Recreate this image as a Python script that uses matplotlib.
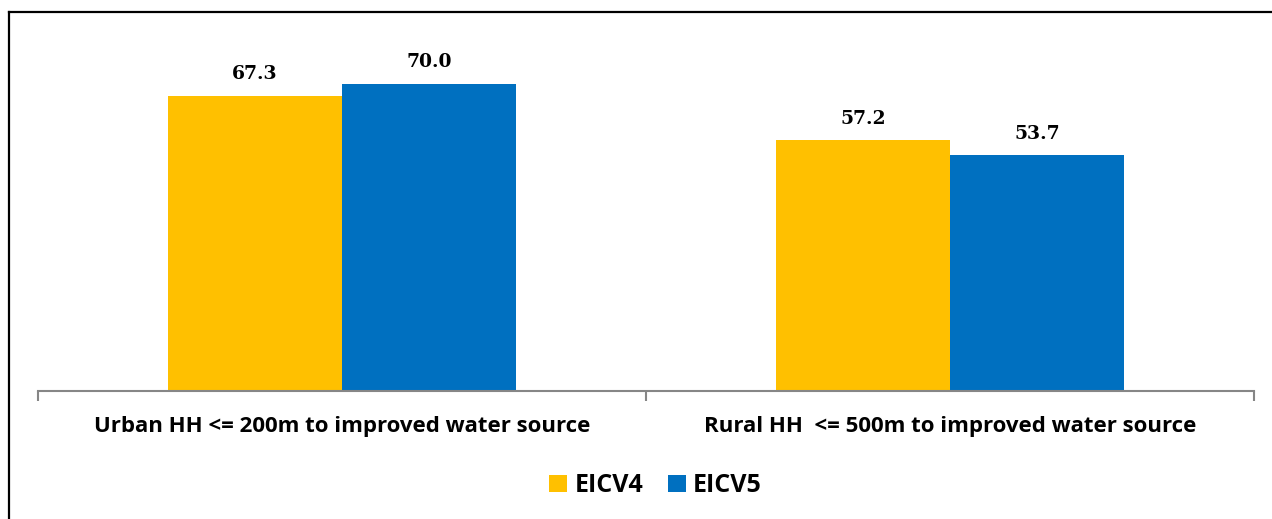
import numpy as np
import matplotlib.pyplot as plt
from matplotlib.lines import Line2D

categories = ["Urban HH <= 200m to improved water source",
              "Rural HH  <= 500m to improved water source"]
series = ["EICV4", "EICV5"]
eicv4 = [67.3, 57.2]
eicv5 = [70.0, 53.7]
colors = ["#FFC000", "#0070C0"]

fig = plt.figure(figsize=(12.72, 5.19), dpi=100)
ax = fig.add_axes([38 / 1272, 128 / 519, 1216 / 1272, 351 / 519])

x = np.arange(len(categories))
w = 0.287
b1 = ax.bar(x - w / 2, eicv4, w, color=colors[0], label=series[0])
b2 = ax.bar(x + w / 2, eicv5, w, color=colors[1], label=series[1])

for bars in (b1, b2):
    for rect in bars:
        ax.annotate(f"{rect.get_height():.1f}",
                    (rect.get_x() + rect.get_width() / 2, rect.get_height()),
                    xytext=(0, 9), textcoords="offset points",
                    ha="center", va="bottom",
                    fontsize=13.5, fontweight="bold", family="DejaVu Serif")

ax.set_xlim(-0.5, 1.5)
ax.set_ylim(0, 80)
ax.set_yticks([])
for s in ("top", "right", "left"):
    ax.spines[s].set_visible(False)
ax.spines["bottom"].set_color("#868686")
ax.spines["bottom"].set_linewidth(1.5)

ax.set_xticks(x)
ax.set_xticklabels(categories, fontsize=16, fontweight="bold", family="Open Sans")
ax.tick_params(axis="x", which="major", length=0, pad=18)
ax.set_xticks([-0.5, 0.5, 1.5], minor=True)
ax.tick_params(axis="x", which="minor", length=7, width=1.5, color="#868686")

leg = ax.legend(loc="center", bbox_to_anchor=(0.508, -0.27), ncol=2, frameon=False,
                prop={"family": "Open Sans", "weight": "bold", "size": 18},
                handlelength=0.7, handleheight=0.7, handletextpad=0.3,
                columnspacing=1.0)

# frame lines around the picture
fig.add_artist(Line2D([9 / 1272, 1], [1 - 12 / 519, 1 - 12 / 519],
                      color="black", lw=1.6, transform=fig.transFigure))
fig.add_artist(Line2D([9 / 1272, 9 / 1272], [0, 1 - 12 / 519],
                      color="black", lw=1.6, transform=fig.transFigure))

fig.savefig("out.png", dpi=100)
